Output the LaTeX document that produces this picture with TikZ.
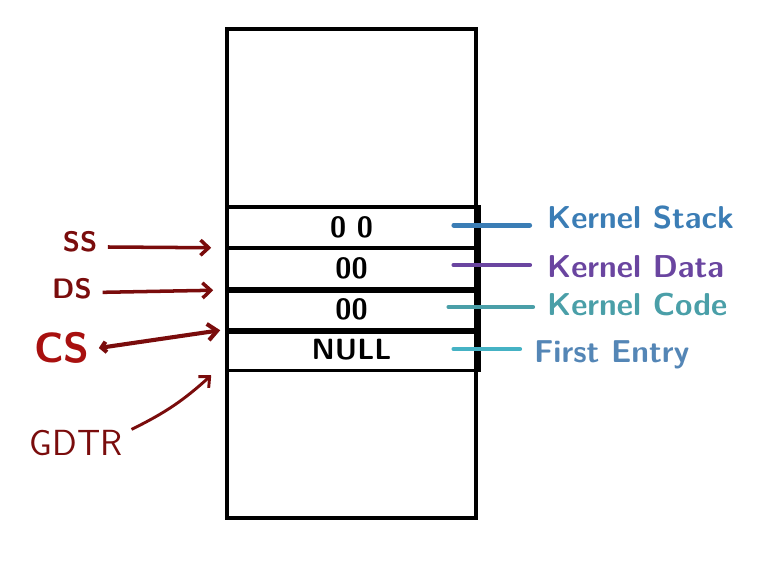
\documentclass[tikz,border=0pt]{standalone}
\usepackage{fontspec}
\usetikzlibrary{arrows.meta}
\definecolor{segred}{HTML}{7A0C0C}
\definecolor{csred}{HTML}{A8100F}
\definecolor{stackcol}{HTML}{3B7DB5}
\definecolor{datacol}{HTML}{6A45A0}
\definecolor{codecol}{HTML}{4A9FA8}
\definecolor{firstcol}{HTML}{45B2C4}
\tikzset{
  row/.style={draw, line width=3pt, minimum width=7.47cm, minimum height=1.23cm, inner sep=0pt,
    font=\sffamily\bfseries\fontsize{25}{27}\selectfont},
  thk/.style={line width=5pt},
  ptr/.style={segred, line width=3pt, -{Straight Barb[length=7pt, width=13pt]}},
  reg/.style={text=segred, font=\sffamily\bfseries\fontsize{24}{26}\selectfont},
  tagline/.style={line width=4pt, line cap=round},
  tag/.style={anchor=west, font=\sffamily\bfseries\fontsize{27}{29}\selectfont}
}
\begin{document}
\begin{tikzpicture}[x=0.03cm, y=-0.03cm]
  \useasboundingbox (0,0) rectangle (772,571);
  \draw[line width=3pt] (227,29) rectangle (476,518);
  % descriptor table entries
  \node[row] (r1) at (351.5,227.5) {0 0};
  \node[row] (r2) at (351.5,268) {00};
  \node[row] (r3) at (351.5,309) {00};
  \node[row] (r4) at (351.5,350) {NULL};
  \draw[thk] (r2.south west) -- (r2.south east);
  \draw[thk] (r3.south west) -- (r3.south east);
  \draw[thk] (r1.north east) -- (r4.south east);
  % labels on the right
  \node[tag, text=stackcol] (ks) at (543,218) {Kernel Stack};
  \node[tag, text=datacol] (kd) at (543,267) {Kernel Data};
  \node[tag, text=codecol] (kc) at (543,305) {Kernel Code};
  \node[tag, text=firstcol!60!datacol] (fe) at (530,355) {First Entry};
  \draw[tagline, stackcol] ([xshift=-0.72cm, yshift=0.07cm]r1.east) -- ++(76,0);
  \draw[tagline, datacol] ([xshift=-0.72cm, yshift=0.09cm]r2.east) -- ++(76,0);
  \draw[tagline, codecol] ([xshift=-0.87cm, yshift=0.06cm]r3.east) -- ++(84,0);
  \draw[tagline, firstcol] ([xshift=-0.72cm, yshift=0.03cm]r4.east) -- ++(66,0);
  % segment registers on the left
  \node[reg] (ss) at (80,242) {SS};
  \node[reg] (ds) at (72,289) {DS};
  \node[reg, text=csred, font=\sffamily\bfseries\fontsize{36}{38}\selectfont] (cs) at (62,348) {CS};
  \node[reg, font=\sffamily\fontsize{31}{33}\selectfont] (gdtr) at (76,443) {GDTR};
  \draw[ptr] ([xshift=0.2cm, yshift=-0.15cm]ss.east) -- ([xshift=-0.42cm, yshift=0.06cm]r1.south west);
  \draw[ptr] ([xshift=0.2cm, yshift=-0.1cm]ds.east) -- ([xshift=-0.36cm]r2.south west);
  \draw[ptr, {Straight Barb[length=4pt, width=9pt]}-{Straight Barb[length=8pt, width=14pt]}, line width=3.5pt]
    ([xshift=0.15cm]cs.east) -- ([xshift=-0.15cm, yshift=0.03cm]r3.south west);
  \draw[ptr, line width=2.5pt] ([xshift=0.15cm, yshift=-0.1cm]gdtr.north east) to[bend right=8]
    ([xshift=-0.42cm, yshift=-0.09cm]r4.south west);
\end{tikzpicture}
\end{document}
